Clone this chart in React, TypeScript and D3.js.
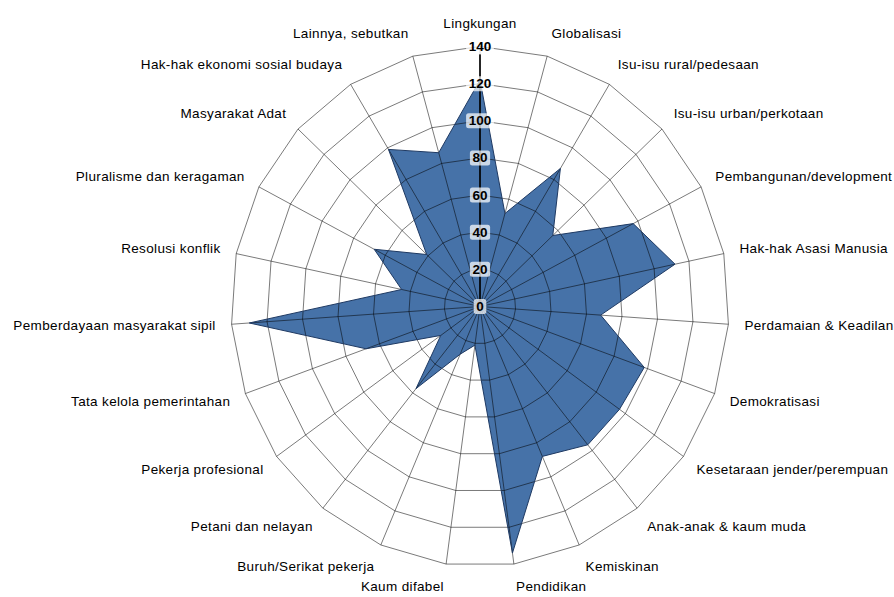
import React from 'react';
import * as d3 from 'd3';

const categories = [
  'Lingkungan',
  'Globalisasi',
  'Isu-isu rural/pedesaan',
  'Isu-isu urban/perkotaan',
  'Pembangunan/development',
  'Hak-hak Asasi Manusia',
  'Perdamaian & Keadilan',
  'Demokratisasi',
  'Kesetaraan jender/perempuan',
  'Anak-anak & kaum muda',
  'Kemiskinan',
  'Pendidikan',
  'Kaum difabel',
  'Buruh/Serikat pekerja',
  'Petani dan nelayan',
  'Pekerja profesional',
  'Tata kelola pemerintahan',
  'Pemberdayaan masyarakat sipil',
  'Resolusi konflik',
  'Pluralisme dan keragaman',
  'Masyarakat Adat',
  'Hak-hak ekonomi sosial budaya',
  'Lainnya, sebutkan',
];

const values = [122, 52, 87, 56, 97, 112, 68, 98, 96, 96, 88, 134, 21, 28, 57, 27, 68, 130, 45, 67, 41, 99, 86];

const ticks = [0, 20, 40, 60, 80, 100, 120, 140];

const width = 894;
const height = 597;
const cx = 480;
const cy = 306.5;
const rx = 249;
const ry = 260;

export default function App() {
  const n = categories.length;
  const rScale = d3.scaleLinear().domain([0, 140]).range([0, 1]);
  const aScale = d3.scaleLinear().domain([0, n]).range([0, 2 * Math.PI]);

  const pt = (i: number, v: number): [number, number] => {
    const a = aScale(i);
    return [cx + Math.sin(a) * rx * rScale(v), cy - Math.cos(a) * ry * rScale(v)];
  };

  const closed = d3.line<[number, number]>().curve(d3.curveLinearClosed);
  const idx = d3.range(n);

  const dataPath = closed(values.map((v, i) => pt(i, v))) || '';

  return (
    <svg
      width={width}
      height={height}
      style={{ position: 'absolute', left: 0, top: 0, display: 'block', background: '#fff' }}
      fontFamily="'Liberation Sans', Arial, sans-serif"
    >
      <path d={dataPath} fill="#4672a8" stroke="none" />

      {/* rings */}
      {ticks.filter(t => t > 0).map(t => (
        <path
          key={'ring' + t}
          d={closed(idx.map(i => pt(i, t))) || ''}
          fill="none"
          stroke="#000"
          strokeOpacity={0.52}
          strokeWidth={1}
        />
      ))}

      {/* spokes */}
      {idx.map(i => {
        const [x, y] = pt(i, 140);
        return (
          <line key={'sp' + i} x1={cx} y1={cy} x2={x} y2={y}
            stroke="#000" strokeOpacity={0.52} strokeWidth={1} />
        );
      })}

      <path d={dataPath} fill="none" stroke="#1f3a63" strokeWidth={1} strokeLinejoin="miter" />

      {/* value axis */}
      <line x1={cx} y1={cy} x2={cx} y2={pt(0, 140)[1] + 8} stroke="#000" strokeWidth={1.6} />

      {ticks.map(t => {
        const y = pt(0, t)[1];
        const w = String(t).length * 7.6 + 5;
        return (
          <g key={'tk' + t}>
            <rect x={cx - w / 2} y={y - 7.5} width={w} height={15} rx={2.5}
              fill="#fff" fillOpacity={0.72} />
            <text x={cx} y={y} textAnchor="middle" dominantBaseline="central"
              fontSize={13.5} fontWeight="bold" fill="#000">{t}</text>
          </g>
        );
      })}

      {/* category labels */}
      {categories.map((c, i) => {
        const a = aScale(i);
        const s = Math.sin(a);
        const co = Math.cos(a);
        const [ox, oy] = pt(i, 140);
        const x = ox + 16 * s;
        const y = oy - 23 * co;
        const anchor = Math.abs(s) < 0.01 ? 'middle' : s > 0 ? 'start' : 'end';
        return (
          <text key={'lb' + i} x={x} y={y} textAnchor={anchor} dominantBaseline="central"
            fontSize={13.5} letterSpacing={0.35} fill="#000">{c}</text>
        );
      })}
    </svg>
  );
}
